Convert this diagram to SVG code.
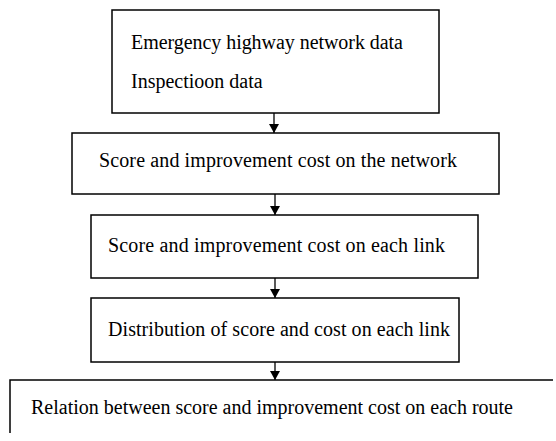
<svg xmlns="http://www.w3.org/2000/svg" width="556" height="441" viewBox="0 0 556 441">
<style>
.box{fill:#fff;stroke:#000;stroke-width:1.5}
.t{font-family:"Liberation Serif","Times New Roman",serif;font-size:20px;fill:#000}
.c{stroke:#000;stroke-width:1.3;fill:none}
</style>
<defs>
<marker id="ah" viewBox="0 0 10 11" refX="10" refY="5.5" markerWidth="11" markerHeight="10" markerUnits="userSpaceOnUse" orient="auto">
<path d="M0,0 L10,5.5 L0,11 Z" fill="#000"/>
</marker>
</defs>
<rect width="556" height="441" fill="#fff"/>
<g id="connectors">
<line class="c" x1="274" y1="113" x2="274" y2="133" marker-end="url(#ah)"/>
<line class="c" x1="275" y1="194" x2="275" y2="215" marker-end="url(#ah)"/>
<line class="c" x1="275" y1="278" x2="275" y2="298" marker-end="url(#ah)"/>
<line class="c" x1="275" y1="362" x2="275" y2="380" marker-end="url(#ah)"/>
</g>
<g id="n1">
<rect class="box" x="112" y="10" width="327" height="103"/>
<text class="t" x="131" y="49" textLength="272" lengthAdjust="spacing">Emergency highway network data</text>
<text class="t" x="131" y="88">Inspectioon data</text>
</g>
<g id="n2">
<rect class="box" x="72" y="133" width="427" height="61"/>
<text class="t" x="99" y="167" textLength="358" lengthAdjust="spacing">Score and improvement cost on the network</text>
</g>
<g id="n3">
<rect class="box" x="91" y="215" width="387" height="63"/>
<text class="t" x="108" y="252" textLength="337" lengthAdjust="spacing">Score and improvement cost on each link</text>
</g>
<g id="n4">
<rect class="box" x="91" y="298" width="368" height="64"/>
<text class="t" x="108" y="336" textLength="342" lengthAdjust="spacing">Distribution of score and cost on each link</text>
</g>
<g id="n5">
<path class="box" d="M10,433 L10,380 L553,380" fill="none"/>
<text class="t" x="31" y="414" textLength="482" lengthAdjust="spacing">Relation between score and improvement cost on each route</text>
</g>
</svg>
